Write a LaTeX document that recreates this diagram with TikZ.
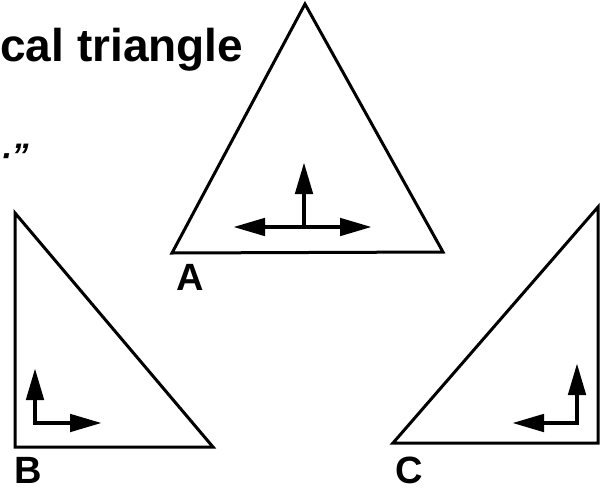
\documentclass[tikz,border=0pt]{standalone}
\usepackage{fontspec}
\setmainfont{Liberation Sans}
\usetikzlibrary{arrows.meta}

\tikzset{
  tri/.style={draw, line width=1.5pt, line join=miter},
  vec/.style={line width=2.4pt, line join=miter, arrows={-Triangle[length=16pt, width=8.5pt]}},
  vecboth/.style={vec, arrows={Triangle[length=16pt, width=8.5pt]-Triangle[length=16pt, width=8.5pt]}},
  lbl/.style={font=\fontsize{19}{19}\selectfont\bfseries, inner sep=0pt}
}

\begin{document}
\begin{tikzpicture}[x=0.5pt, y=-0.5pt]
            \useasboundingbox (0,0) rectangle (600,493);

            % Caption fragments
            \node[anchor=base west, inner sep=0pt, font=\fontsize{23}{23}\selectfont\bfseries] (title) at (0,61) {cal triangle};
            \node[anchor=base west, inner sep=0pt, font=\fontsize{17}{17}\selectfont\bfseries\itshape] (quote) at (0,167) {·”};

            % Triangle A: equilateral
            \coordinate (A1) at (305,4);
            \coordinate (A2) at (172,253);
            \coordinate (A3) at (443,252);
            \draw[tri] (A1) -- (A2) -- (A3) -- cycle;
            \coordinate (Ao) at (304,227);
            \coordinate (Al) at (233,227);
            \coordinate (Ar) at (372,227);
            \coordinate (Au) at (304,162);
            \draw[vecboth] (Al) -- (Ar);
            \draw[vec] (Ao) -- (Au);
            \node[lbl] (labA) at (190,277) {A};

            % Triangle B: right angle at bottom left
            \coordinate (B1) at (15,213);
            \coordinate (B2) at (15,447);
            \coordinate (B3) at (213,447);
            \draw[tri] (B1) -- (B2) -- (B3) -- cycle;
            \coordinate (Bo) at (35,423);
            \coordinate (Bu) at (35,368);
            \coordinate (Br) at (102,423);
            \draw[vecboth] (Bu) -- (Bo) -- (Br);
            \node[lbl] (labB) at (28,470) {B};

            % Triangle C: right angle at bottom right
            \coordinate (C1) at (598,207);
            \coordinate (C2) at (598,443);
            \coordinate (C3) at (393,443);
            \draw[tri] (C1) -- (C2) -- (C3) -- cycle;
            \coordinate (Co) at (577,423);
            \coordinate (Cu) at (577,363);
            \coordinate (Cl) at (512,423);
            \draw[vecboth] (Cu) -- (Co) -- (Cl);
            \node[lbl] (labC) at (409,470) {C};
\end{tikzpicture}
\end{document}
